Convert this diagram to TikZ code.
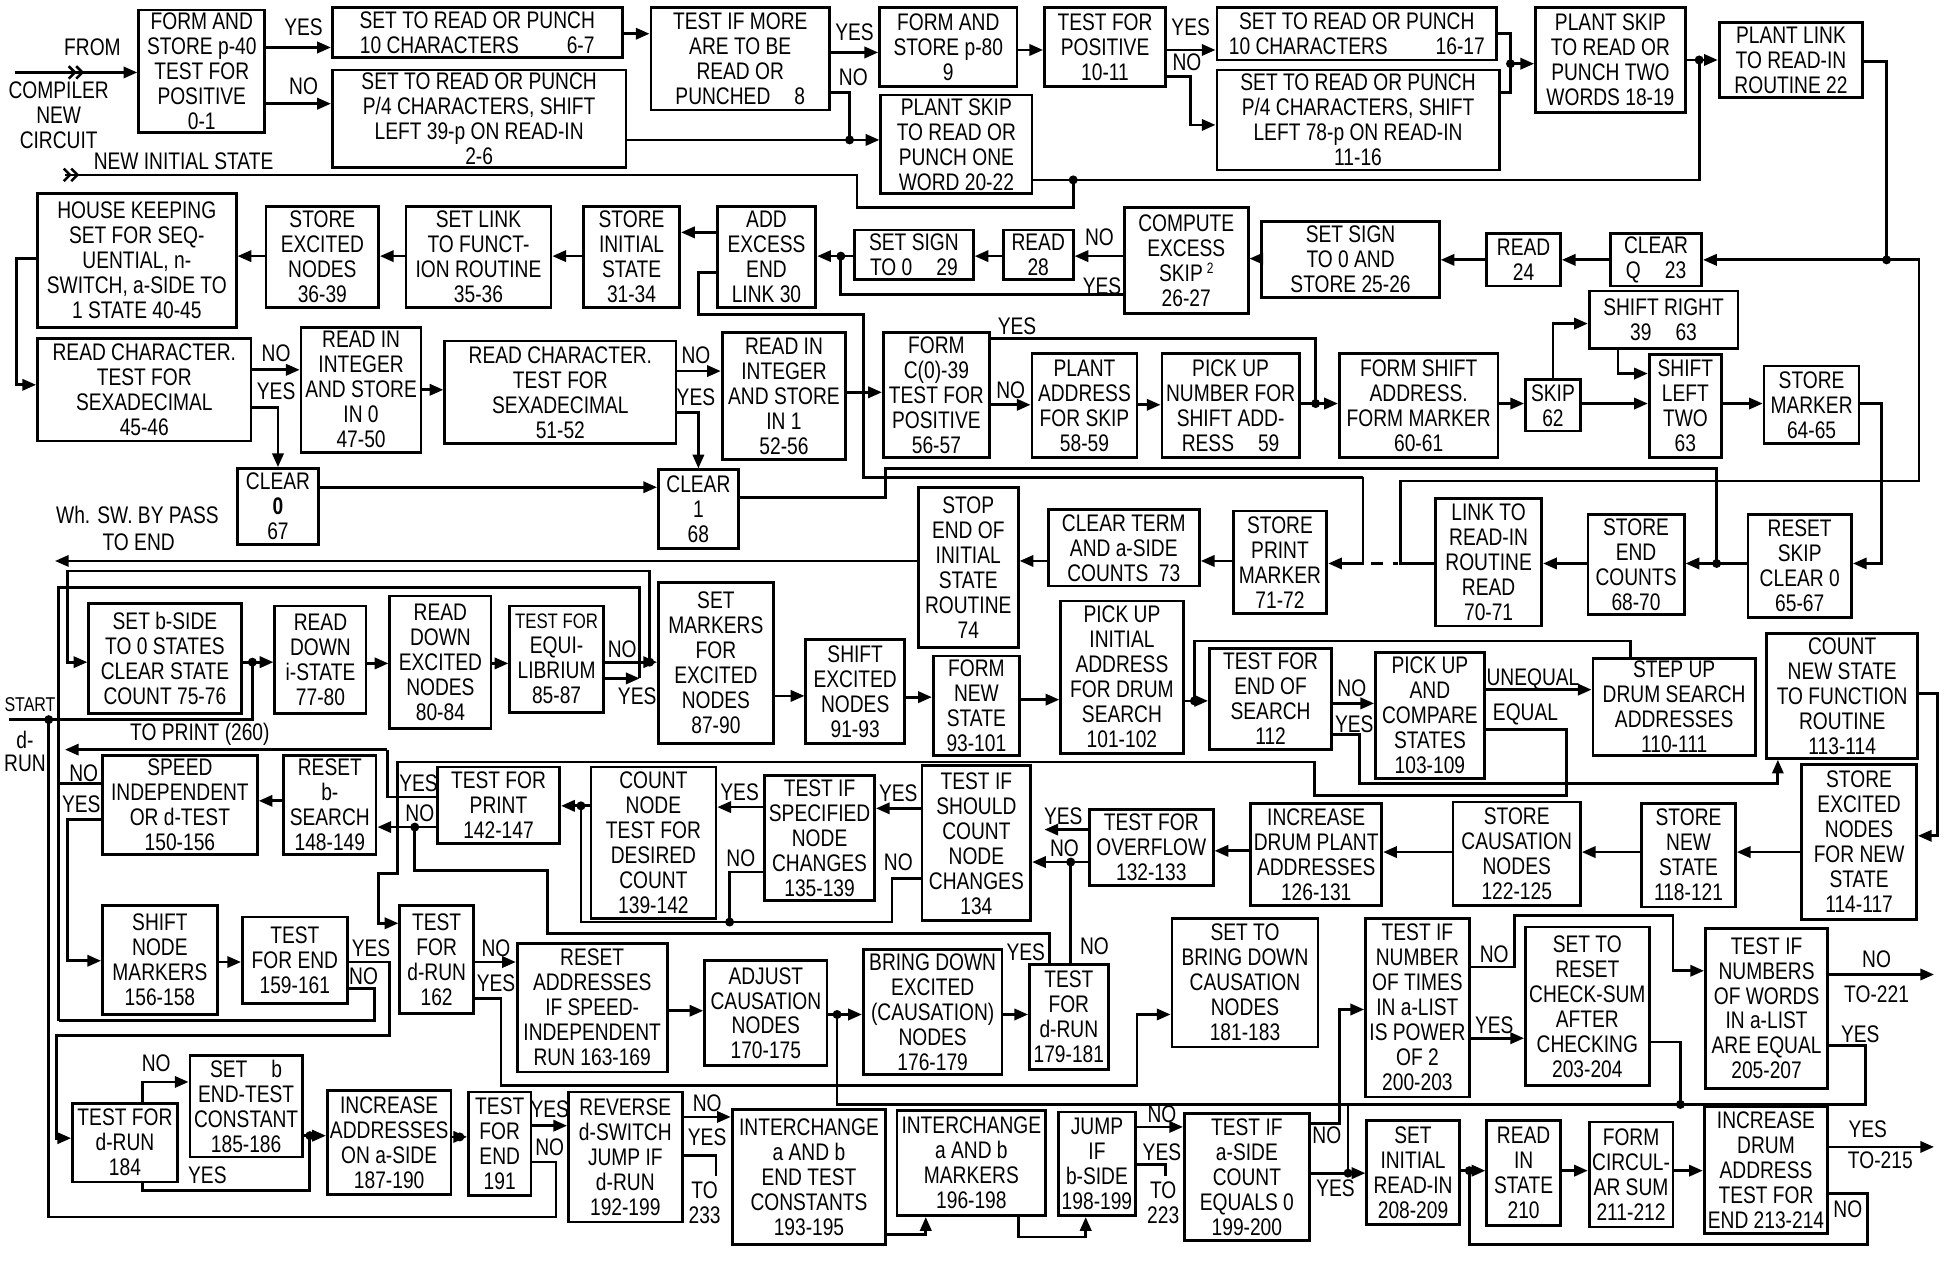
\documentclass[tikz,border=0pt]{standalone}
\usepackage{fontspec}
\setmainfont{Liberation Sans}[FakeStretch=0.80]
\usetikzlibrary{arrows.meta}
\newcommand\lbl{\fontsize{9.6}{10}\selectfont}
\newcommand\smallf{\fontsize{8}{8.5}\selectfont}
\newcounter{labc}
\begin{document}
\begin{tikzpicture}[x=0.5pt,y=-0.5pt,line width=1.1pt,
  box/.style={draw,inner sep=0.3pt,align=center,font=\lbl},
  lab/.style={inner sep=0pt,font=\lbl,align=center},
  arr/.style={-{Triangle[length=5.5pt,width=4.5pt]}}]
\newcommand\bx[6]{%
  \pgfmathsetmacro\bw{(#4-#2)*0.5}%
  \pgfmathsetmacro\bh{(#5-#3)*0.5}%
  \node[box,minimum width=\bw pt,minimum height=\bh pt] (#1) at ({(#2+#4)/2},{(#3+#5)/2}) {#6};}
\newcommand\lb[3]{\stepcounter{labc}\node[lab] (lab\arabic{labc}) at (#1,#2) {#3};}
\newcommand\dt[1]{\fill #1 circle (1.8pt);}
\newcommand\chev[2]{\draw[line width=1pt] (#1-7,#2-5) -- (#1-2,#2) -- (#1-7,#2+5) (#1-1,#2-5) -- (#1+4,#2) -- (#1-1,#2+5);}
\fill[white] (0,0) rectangle (1568,1016);
\useasboundingbox (0,0) rectangle (1568,1016);

% ---------------- row 1
\bx{A}{111}{8}{212}{106}{FORM AND\\STORE p-40\\TEST FOR\\POSITIVE\\0-1}
\bx{B}{266}{6}{498}{46}{SET TO READ OR PUNCH\\10 CHARACTERS\qquad 6-7}
\bx{C}{266}{56}{501}{134}{SET TO READ OR PUNCH\\P/4 CHARACTERS, SHIFT\\LEFT 39-p ON READ-IN\\2-6}
\bx{D}{521}{6}{664}{88}{TEST IF MORE\\ARE TO BE\\READ OR\\PUNCHED\quad 8}
\bx{E}{704}{6}{814}{69}{FORM AND\\STORE p-80\\9}
\bx{F}{705}{76}{826}{155}{PLANT SKIP\\TO READ OR\\PUNCH ONE\\WORD 20-22}
\bx{G}{836}{6}{933}{69}{TEST FOR\\POSITIVE\\10-11}
\bx{H}{974}{6}{1198}{48}{SET TO READ OR PUNCH\\10 CHARACTERS\qquad 16-17}
\bx{I}{974}{56}{1200}{136}{SET TO READ OR PUNCH\\P/4 CHARACTERS, SHIFT\\LEFT 78-p ON READ-IN\\11-16}
\bx{J}{1229}{6}{1349}{90}{PLANT SKIP\\TO READ OR\\PUNCH TWO\\WORDS 18-19}
\bx{K}{1376}{18}{1491}{78}{PLANT LINK\\TO READ-IN\\ROUTINE 22}

% ---------------- row 2
\bx{HK}{30}{155}{189}{262}{HOUSE KEEPING\\SET FOR SEQ-\\UENTIAL, n-\\SWITCH, a-SIDE TO\\1 STATE 40-45}
\bx{SEN}{213}{165}{303}{246}{STORE\\EXCITED\\NODES\\36-39}
\bx{SLF}{325}{165}{441}{246}{SET LINK\\TO FUNCT-\\ION ROUTINE\\35-36}
\bx{SIS}{467}{165}{544}{246}{STORE\\INITIAL\\STATE\\31-34}
\bx{ADD}{574}{165}{653}{246}{ADD\\EXCESS\\END\\LINK 30}
\bx{SS29}{684}{184}{779}{224}{SET SIGN\\TO 0\quad 29}
\bx{R28}{803}{184}{859}{224}{READ\\28}
\bx{CES}{900}{166}{999}{251}{COMPUTE\\EXCESS\\SKIP\,\raisebox{0.6ex}{\fontsize{6}{6}\selectfont 2}\\26-27}
\bx{SSS}{1010}{177}{1152}{238}{SET SIGN\\TO 0 AND\\STORE 25-26}
\bx{R24}{1190}{187}{1249}{229}{READ\\24}
\bx{CQ}{1289}{187}{1362}{229}{CLEAR\\Q\quad 23}
\bx{SR}{1272}{233}{1391}{279}{SHIFT RIGHT\\39\quad 63}

\bx{RC1}{30}{271}{201}{353}{READ CHARACTER.\\TEST FOR\\SEXADECIMAL\\45-46}
\bx{RI0}{241}{262}{337}{362}{READ IN\\INTEGER\\AND STORE\\IN 0\\47-50}
\bx{RC2}{356}{273}{541}{355}{READ CHARACTER.\\TEST FOR\\SEXADECIMAL\\51-52}
\bx{RI1}{578}{266}{677}{368}{READ IN\\INTEGER\\AND STORE\\IN 1\\52-56}
\bx{FC}{707}{266}{792}{366}{FORM\\C(0)-39\\TEST FOR\\POSITIVE\\56-57}
\bx{PA}{826}{283}{910}{366}{PLANT\\ADDRESS\\FOR SKIP\\58-59}
\bx{PU}{930}{283}{1040}{366}{PICK UP\\NUMBER FOR\\SHIFT ADD-\\RESS\quad 59}
\bx{FS}{1072}{283}{1199}{366}{FORM SHIFT\\ADDRESS.\\FORM MARKER\\60-61}
\bx{SK}{1221}{304}{1265}{345}{SKIP\\62}
\bx{SL}{1320}{284}{1378}{366}{SHIFT\\LEFT\\TWO\\63}
\bx{SM}{1412}{293}{1488}{355}{STORE\\MARKER\\64-65}
\bx{C0}{190}{375}{255}{436}{CLEAR\\{\bfseries 0}\\67}
\bx{C1}{527}{376}{591}{439}{CLEAR\\1\\68}
\bx{STOP}{735}{390}{815}{518}{STOP\\END OF\\INITIAL\\STATE\\ROUTINE\\74}
\bx{CT}{839}{408}{960}{469}{CLEAR TERM\\AND a-SIDE\\COUNTS\ \ 73}
\bx{SPM}{987}{409}{1062}{491}{STORE\\PRINT\\MARKER\\71-72}
\bx{LR}{1149}{399}{1234}{501}{LINK TO\\READ-IN\\ROUTINE\\READ\\70-71}
\bx{SEC}{1271}{412}{1348}{492}{STORE\\END\\COUNTS\\68-70}
\bx{RS}{1399}{412}{1482}{494}{RESET\\SKIP\\CLEAR 0\\65-67}

% ---------------- row 3
\bx{SB}{71}{483}{193}{571}{SET b-SIDE\\TO 0 STATES\\CLEAR STATE\\COUNT 75-76}
\bx{RDI}{220}{485}{293}{571}{READ\\DOWN\\i-STATE\\77-80}
\bx{RDE}{312}{477}{393}{583}{READ\\DOWN\\EXCITED\\NODES\\80-84}
\bx{TEQ}{408}{485}{483}{570}{{\fontsize{8.4}{10}\selectfont TEST FOR}\\EQUI-\\LIBRIUM\\85-87}
\bx{SMK}{527}{466}{619}{595}{SET\\MARKERS\\FOR\\EXCITED\\NODES\\87-90}
\bx{SEN2}{645}{512}{724}{595}{SHIFT\\EXCITED\\NODES\\91-93}
\bx{FNS}{747}{525}{816}{605}{FORM\\NEW\\STATE\\93-101}
\bx{PUI}{849}{481}{947}{603}{PICK UP\\INITIAL\\ADDRESS\\FOR DRUM\\SEARCH\\101-102}
\bx{TES}{968}{519}{1066}{600}{TEST FOR\\END OF\\SEARCH\\112}
\bx{PUC}{1101}{522}{1188}{623}{PICK UP\\AND\\COMPARE\\STATES\\103-109}
\bx{SU}{1275}{527}{1405}{605}{STEP UP\\DRUM SEARCH\\ADDRESSES\\110-111}
\bx{CNS}{1414}{507}{1535}{607}{COUNT\\NEW STATE\\TO FUNCTION\\ROUTINE\\113-114}

% ---------------- row 4
\bx{SPD}{82}{605}{206}{684}{SPEED\\INDEPENDENT\\OR d-TEST\\150-156}
\bx{RB}{227}{605}{301}{684}{RESET\\b-\\SEARCH\\148-149}
\bx{TP}{350}{614}{448}{675}{TEST FOR\\PRINT\\142-147}
\bx{CN}{473}{614}{573}{735}{COUNT\\NODE\\TEST FOR\\DESIRED\\COUNT\\139-142}
\bx{TSN}{612}{621}{700}{721}{TEST IF\\SPECIFIED\\NODE\\CHANGES\\135-139}
\bx{TSC}{738}{613}{825}{737}{TEST IF\\SHOULD\\COUNT\\NODE\\CHANGES\\134}
\bx{TOV}{872}{648}{971}{709}{TEST FOR\\OVERFLOW\\132-133}
\bx{IDP}{1001}{643}{1106}{725}{INCREASE\\DRUM PLANT\\ADDRESSES\\126-131}
\bx{SCN}{1163}{642}{1265}{725}{STORE\\CAUSATION\\NODES\\122-125}
\bx{SNS}{1314}{643}{1389}{726}{STORE\\NEW\\STATE\\118-121}
\bx{SEN3}{1442}{612}{1534}{736}{STORE\\EXCITED\\NODES\\FOR NEW\\STATE\\114-117}

% ---------------- row 5
\bx{SNM}{82}{725}{174}{812}{SHIFT\\NODE\\MARKERS\\156-158}
\bx{TFE}{194}{734}{278}{803}{TEST\\FOR END\\159-161}
\bx{TDa}{320}{725}{379}{811}{TEST\\FOR\\d-RUN\\162}
\bx{RA}{414}{755}{534}{858}{RESET\\ADDRESSES\\IF SPEED-\\INDEPENDENT\\RUN 163-169}
\bx{AC}{564}{769}{662}{853}{ADJUST\\CAUSATION\\NODES\\170-175}
\bx{BD}{691}{760}{802}{860}{BRING DOWN\\EXCITED\\(CAUSATION)\\NODES\\176-179}
\bx{TDb}{824}{772}{887}{856}{TEST\\FOR\\d-RUN\\179-181}
\bx{SBD}{938}{735}{1055}{838}{SET TO\\BRING DOWN\\CAUSATION\\NODES\\181-183}
\bx{TIN}{1093}{735}{1176}{878}{TEST IF\\NUMBER\\OF TIMES\\IN a-LIST\\IS POWER\\OF 2\\200-203}
\bx{STR}{1221}{742}{1320}{869}{SET TO\\RESET\\CHECK-SUM\\AFTER\\CHECKING\\203-204}
\bx{TNW}{1365}{743}{1463}{871}{TEST IF\\NUMBERS\\OF WORDS\\IN a-LIST\\ARE EQUAL\\205-207}

% ---------------- row 6
\bx{TDc}{58}{883}{142}{946}{TEST FOR\\d-RUN\\184}
\bx{SBE}{152}{845}{242}{926}{SET\quad b\\END-TEST\\CONSTANT\\185-186}
\bx{IAA}{262}{873}{361}{956}{INCREASE\\ADDRESSES\\ON a-SIDE\\187-190}
\bx{TFEb}{375}{874}{425}{957}{TEST\\FOR\\END\\191}
\bx{REV}{455}{874}{546}{978}{REVERSE\\d-SWITCH\\JUMP IF\\d-RUN\\192-199}
\bx{IC1}{586}{888}{709}{996}{INTERCHANGE\\a AND b\\END TEST\\CONSTANTS\\193-195}
\bx{IC2}{718}{889}{837}{973}{INTERCHANGE\\a AND b\\MARKERS\\196-198}
\bx{JMP}{847}{890}{909}{973}{JUMP\\IF\\b-SIDE\\198-199}
\bx{TAS}{948}{891}{1048}{993}{TEST IF\\a-SIDE\\COUNT\\EQUALS 0\\199-200}
\bx{SIR}{1094}{897}{1168}{980}{SET\\INITIAL\\READ-IN\\208-209}
\bx{RIS}{1190}{897}{1249}{981}{READ\\IN\\STATE\\210}
\bx{FCS}{1272}{898}{1339}{982}{FORM\\CIRCUL-\\AR SUM\\211-212}
\bx{IDA}{1364}{886}{1463}{987}{INCREASE\\DRUM\\ADDRESS\\TEST FOR\\END 213-214}

% ---------------- labels
\lb{74}{38}{FROM}
\lb{47}{92}{COMPILER\\NEW\\CIRCUIT}
\node[lab,anchor=west] (nis) at (74,129) {NEW INITIAL STATE};
\lb{243}{22}{YES}\lb{243}{69}{NO}
\lb{684}{26}{YES}\lb{683}{62}{NO}
\lb{953}{22}{YES}\lb{950}{50}{NO}
\lb{880}{190}{NO}\lb{882}{229}{YES}
\lb{221}{283}{NO}\lb{221}{313}{YES}
\lb{557}{284}{NO}\lb{557}{318}{YES}
\lb{814}{261}{YES}\lb{809}{312}{NO}
\lb{110}{412}{Wh. SW. BY PASS}\lb{111}{434}{TO END}
\lb{498}{520}{NO}\lb{510}{557}{YES}
\lb{1082}{551}{NO}\lb{1084}{580}{YES}
\lb{1227}{544}{UNEQUAL}\lb{1221}{572}{EQUAL}
\node[lab,font=\smallf] (st1) at (24,564) {START};
\lb{20}{592}{d-}\lb{20}{611}{RUN}
\lb{160}{588}{TO PRINT (260)}
\lb{67}{619}{NO}\lb{65}{644}{YES}
\lb{335}{627}{YES}\lb{336}{651}{NO}
\lb{592}{634}{YES}\lb{593}{687}{NO}
\lb{719}{635}{YES}\lb{719}{690}{NO}
\lb{851}{653}{YES}\lb{852}{679}{NO}
\lb{297}{759}{YES}\lb{291}{781}{NO}
\lb{397}{759}{NO}\lb{397}{787}{YES}
\lb{821}{762}{YES}\lb{876}{757}{NO}
\lb{1196}{764}{NO}\lb{1196}{821}{YES}
\lb{1502}{768}{NO}\lb{1502}{796}{TO-221}\lb{1489}{828}{YES}
\lb{125}{851}{NO}\lb{166}{941}{YES}
\lb{440}{888}{YES}\lb{440}{918}{NO}
\lb{566}{883}{NO}\lb{566}{910}{YES}\lb{564}{963}{TO\\233}
\lb{930}{892}{NO}\lb{930}{922}{YES}\lb{931}{963}{TO\\223}
\lb{1062}{909}{NO}\lb{1069}{951}{YES}
\lb{1495}{904}{YES}\lb{1505}{929}{TO-215}\lb{1479}{968}{NO}

% ---------------- connectors row 1
\coordinate (in1) at (12,58);
\draw[arr] (in1) -- (A.west |- 0,58);
\chev{62}{58}
\coordinate (in2) at (52,140);
\chev{58}{140}
\draw[arr] (A.east |- 0,38) -- (B.west |- 0,38);
\draw[arr] (A.east |- 0,83) -- (C.west |- 0,83);
\draw[arr] (B.east |- 0,27) -- (D.west |- 0,27);
\draw[arr] (D.east |- 0,42) -- (E.west |- 0,42);
\draw (D.east |- 0,74) -- (680,74) -- (680,112);
\draw[arr] (C.east |- 0,112) -- (F.west |- 0,112); \dt{(680,112)}
\draw[arr] (E.east |- 0,40) -- (G.west |- 0,40);
\draw[arr] (G.east |- 0,40) -- (H.west |- 0,40);
\draw[arr] (G.east |- 0,61) -- (953,61) -- (953,100) -- (I.west |- 0,100);
\draw (H.east |- 0,27) -- (1209,27) -- (1209,74) -- (I.east |- 0,74);
\draw[arr] (1209,51) -- (J.west |- 0,51); \dt{(1209,51)}
\draw[arr] (J.east |- 0,48) -- (K.west |- 0,48); \dt{(1360,48)}
\draw (F.east |- 0,144) -- (1360,144) -- (1360,48); \dt{(859,144)}
\draw (in2) -- (686,140) -- (686,166) -- (859,166) -- (859,144);
\draw (K.east |- 0,49) -- (1510,49) -- (1510,208);
\draw[arr] (1510,208) -- (CQ.east |- 0,208); \dt{(1510,208)}
% row 2
\draw[arr] (CQ.west |- 0,208) -- (R24.east |- 0,208);
\draw[arr] (R24.west |- 0,208) -- (SSS.east |- 0,208);
\draw[arr] (SSS.west |- 0,207) -- (CES.east |- 0,207);
\draw[arr] (CES.west |- 0,205) -- (R28.east |- 0,205);
\draw[arr] (R28.west |- 0,205) -- (SS29.east |- 0,205);
\draw[arr] (SS29.west |- 0,205) -- (ADD.east |- 0,205); \dt{(673,205)}
\draw (CES.west |- 0,236) -- (673,236) -- (673,205);
\draw[arr] (ADD.west |- 0,186) -- (SIS.east |- 0,186);
\draw[arr] (SIS.west |- 0,205) -- (SLF.east |- 0,205);
\draw[arr] (SLF.west |- 0,205) -- (SEN.east |- 0,205);
\draw[arr] (SEN.west |- 0,205) -- (HK.east |- 0,205);
\draw[arr] (HK.west |- 0,207) -- (13,207) -- (13,308) -- (RC1.west |- 0,308);
\draw[arr] (RC1.east |- 0,296) -- (RI0.west |- 0,296);
\draw[arr] (RC1.east |- 0,326) -| (C0.north);
\draw[arr] (RI0.east |- 0,312) -- (RC2.west |- 0,312);
\draw[arr] (RC2.east |- 0,297) -- (RI1.west |- 0,297);
\draw[arr] (RC2.east |- 0,330) -| (C1.north);
\draw[arr] (C0.east |- 0,390) -- (C1.west |- 0,390);
\draw[arr] (RI1.east |- 0,314) -- (FC.west |- 0,314);
\draw[arr] (FC.east |- 0,271) -- (1053,271) -- (1053,323) -- (FS.west |- 0,323);
\draw[arr] (FC.east |- 0,324) -- (PA.west |- 0,324);
\draw[arr] (PA.east |- 0,324) -- (PU.west |- 0,324);
\draw (PU.east |- 0,323) -- (1053,323); \dt{(1053,323)}
\draw[arr] (FS.east |- 0,323) -- (SK.west |- 0,323);
\draw[arr] (SK.east |- 0,323) -- (SL.west |- 0,323);
\draw[arr] (SK.north) |- (SR.west |- 0,259);
\draw[arr] (SR.south -| 1295,0) -- (1295,299) -- (SL.west |- 0,299);
\draw[arr] (SL.east |- 0,323) -- (SM.west |- 0,323);
\draw[arr] (SM.east |- 0,323) -- (1506,323) -- (1506,451) -- (RS.east |- 0,451);
\draw[arr] (RS.west |- 0,451) -- (SEC.east |- 0,451); \dt{(1374,451)}
\draw[arr] (SEC.west |- 0,451) -- (LR.east |- 0,451);
\draw (1510,208) -- (1536,208) -- (1536,385) -- (1121,385) -- (1121,451) -- (LR.west |- 0,451);
\draw[dash pattern=on 5pt off 4pt] (1097,451) -- (1119,451);
\draw (C1.east |- 0,398) -- (709,398) -- (709,375) -- (1374,375) -- (1374,451);
\draw (ADD.west |- 0,218) -- (559,218) -- (559,252) -- (691,252) -- (691,382) -- (1091,382);
\draw[arr] (1091,382) -- (1091,451) -- (SPM.east |- 0,451);
\draw[arr] (SPM.west |- 0,449) -- (CT.east |- 0,449);
\draw[arr] (CT.west |- 0,449) -- (STOP.east |- 0,449);
\coordinate (wh) at (44,449);
\draw[arr] (STOP.west |- 0,449) -- (wh);
% row 3
\draw[arr] (520,530) -- (520,457) -- (54,457) -- (54,530) -- (SB.west |- 0,530);
\draw[arr] (TEQ.east |- 0,530) -- (SMK.west |- 0,530); \dt{(520,530)}
\draw[arr] (TEQ.east |- 0,543) -- (512,543);
\draw (512,543) -- (512,470) -- (47,470) -- (47,817);
\draw[arr] (SB.east |- 0,530) -- (RDI.west |- 0,530); \dt{(202,530)}
\coordinate (start) at (7,576);
\draw (start) -- (202,576) -- (202,530);
\draw[arr] (RDI.east |- 0,531) -- (RDE.west |- 0,531);
\draw[arr] (RDE.east |- 0,531) -- (TEQ.west |- 0,531);
\draw[arr] (SMK.east |- 0,557) -- (SEN2.west |- 0,557);
\draw[arr] (SEN2.east |- 0,558) -- (FNS.west |- 0,558);
\draw[arr] (FNS.east |- 0,560) -- (PUI.west |- 0,560);
\draw[arr] (PUI.east |- 0,561) -- (TES.west |- 0,561); \dt{(956,561)}
\draw (SU.north -| 1305,0) -- (1305,513) -- (956,513) -- (956,561);
\draw[arr] (TES.east |- 0,563) -- (PUC.west |- 0,563);
\draw[arr] (PUC.east |- 0,552) -- (SU.west |- 0,552);
\draw[arr] (PUC.east |- 0,584) -- (1254,584) -- (1254,637) -- (1052,637) -- (1052,610) -- (318,610) -- (318,699) -- (303,699) -- (303,739) -- (TDa.west |- 0,739);
\draw[arr] (TES.east |- 0,588) -- (1088,588) -- (1088,627) -- (1423,627) -- (CNS.south -| 1423,0);
\draw[arr] (CNS.east |- 0,555) -- (1551,555) -- (1551,669) -- (SEN3.east |- 0,669);
% row 4
\draw[arr] (SEN3.west |- 0,682) -- (SNS.east |- 0,682);
\draw[arr] (SNS.west |- 0,682) -- (SCN.east |- 0,682);
\draw[arr] (SCN.west |- 0,682) -- (IDP.east |- 0,682);
\draw[arr] (IDP.west |- 0,681) -- (TOV.east |- 0,681);
\coordinate (ovy) at (836,664);
\draw[arr] (TOV.west |- 0,664) -- (ovy);
\draw[arr] (TOV.west |- 0,690) -- (TSC.east |- 0,690); \dt{(857,690)}
\draw (TDb.north -| 857,0) -- (857,690);
\draw[arr] (TSC.west |- 0,647) -- (TSN.east |- 0,647);
\draw[arr] (TSN.west |- 0,646) -- (CN.east |- 0,646);
\draw (TSN.west |- 0,698) -- (584,698) -- (584,738) -- (465,738) -- (465,645);
\draw (TSC.west |- 0,703) -- (714,703) -- (714,738) -- (584,738); \dt{(584,738)}
\draw[arr] (CN.west |- 0,645) -- (TP.east |- 0,645); \dt{(465,645)}
\draw (TP.west |- 0,638) -- (310,638) -- (310,600);
\coordinate (tp) at (52,600);
\draw[arr] (310,600) -- (tp);
\draw[arr] (TP.west |- 0,662) -- (RB.east |- 0,662); \dt{(332,662)}
\draw (332,662) -- (332,697) -- (438,697) -- (438,747) -- (840,747) -- (TDb.north -| 840,0);
\draw[arr] (RB.west |- 0,641) -- (SPD.east |- 0,641);
\draw (SPD.west |- 0,627) -- (47,627);
\draw[arr] (SPD.west |- 0,656) -- (54,656) -- (54,769) -- (SNM.west |- 0,769);
% row 5
\draw[arr] (SNM.east |- 0,770) -- (TFE.west |- 0,770);
\draw[arr] (TFE.east |- 0,770) -- (312,770) -- (312,829) -- (45,829) -- (45,911) -- (TDc.west |- 0,911);
\draw (TFE.east |- 0,791) -- (300,791) -- (300,817) -- (47,817);
\draw[arr] (TDa.east |- 0,770) -- (RA.west |- 0,770);
\draw[arr] (TDa.east |- 0,799) -- (401,799) -- (401,869) -- (910,869) -- (910,812) -- (SBD.west |- 0,812);
\draw[arr] (RA.east |- 0,809) -- (AC.west |- 0,809);
\draw[arr] (AC.east |- 0,812) -- (BD.west |- 0,812); \dt{(670,812)}
\draw (670,812) -- (670,884) -- (1345,884);
\draw[arr] (BD.east |- 0,812) -- (TDb.west |- 0,812);
\draw[arr] (TAS.east |- 0,899) -- (1072,899) -- (1072,808) -- (TIN.west |- 0,808);
\draw[arr] (TIN.east |- 0,774) -- (1212,774) -- (1212,733) -- (1339,733) -- (1339,777) -- (TNW.west |- 0,777);
\draw[arr] (TIN.east |- 0,831) -- (STR.west |- 0,831);
\draw (STR.east |- 0,834) -- (1345,834) -- (1345,884); \dt{(1345,884)}
\draw (TNW.east |- 0,837) -- (1493,837) -- (1493,884) -- (1345,884);
\coordinate (t221) at (1548,780);
\draw[arr] (TNW.east |- 0,780) -- (t221);
\draw (1079,884) -- (1079,939);
\draw[arr] (TAS.east |- 0,939) -- (SIR.west |- 0,939); \dt{(1079,939)}
% row 6
\draw[arr] (SIR.east |- 0,937) -- (RIS.west |- 0,937); \dt{(1176,937)}
\draw[arr] (RIS.east |- 0,937) -- (FCS.west |- 0,937);
\draw[arr] (FCS.east |- 0,937) -- (IDA.west |- 0,937);
\coordinate (t215) at (1548,918);
\draw[arr] (IDA.east |- 0,918) -- (t215);
\draw (IDA.east |- 0,955) -- (1495,955) -- (1495,996) -- (1176,996) -- (1176,937);
\draw[arr] (TDc.north -| 114,0) -- (114,866) -- (SBE.west |- 0,866);
\draw (TDc.south -| 114,0) -- (114,953) -- (248,953) -- (248,909);
\draw[arr] (SBE.east |- 0,909) -- (IAA.west |- 0,909); \dt{(248,909)}
\draw[arr] (IAA.east |- 0,910) -- (TFEb.west |- 0,910); \dt{(368,910)}
\draw[arr] (TFEb.east |- 0,901) -- (REV.west |- 0,901);
\draw (TFEb.east |- 0,930) -- (445,930) -- (445,974) -- (39,974) -- (39,576); \dt{(39,576)}
\draw[arr] (REV.east |- 0,894) -- (IC1.west |- 0,894);
\draw (REV.east |- 0,925) -- (573,925) -- (573,941);
\draw[arr] (IC1.east |- 0,988) -- (741,988) -- (IC2.south -| 741,0);
\draw[arr] (IC2.south -| 815,0) -- (815,990) -- (869,990) -- (JMP.south -| 869,0);
\draw[arr] (JMP.east |- 0,902) -- (TAS.west |- 0,902);
\draw (JMP.east |- 0,932) -- (933,932) -- (933,941);
\end{tikzpicture}
\end{document}
